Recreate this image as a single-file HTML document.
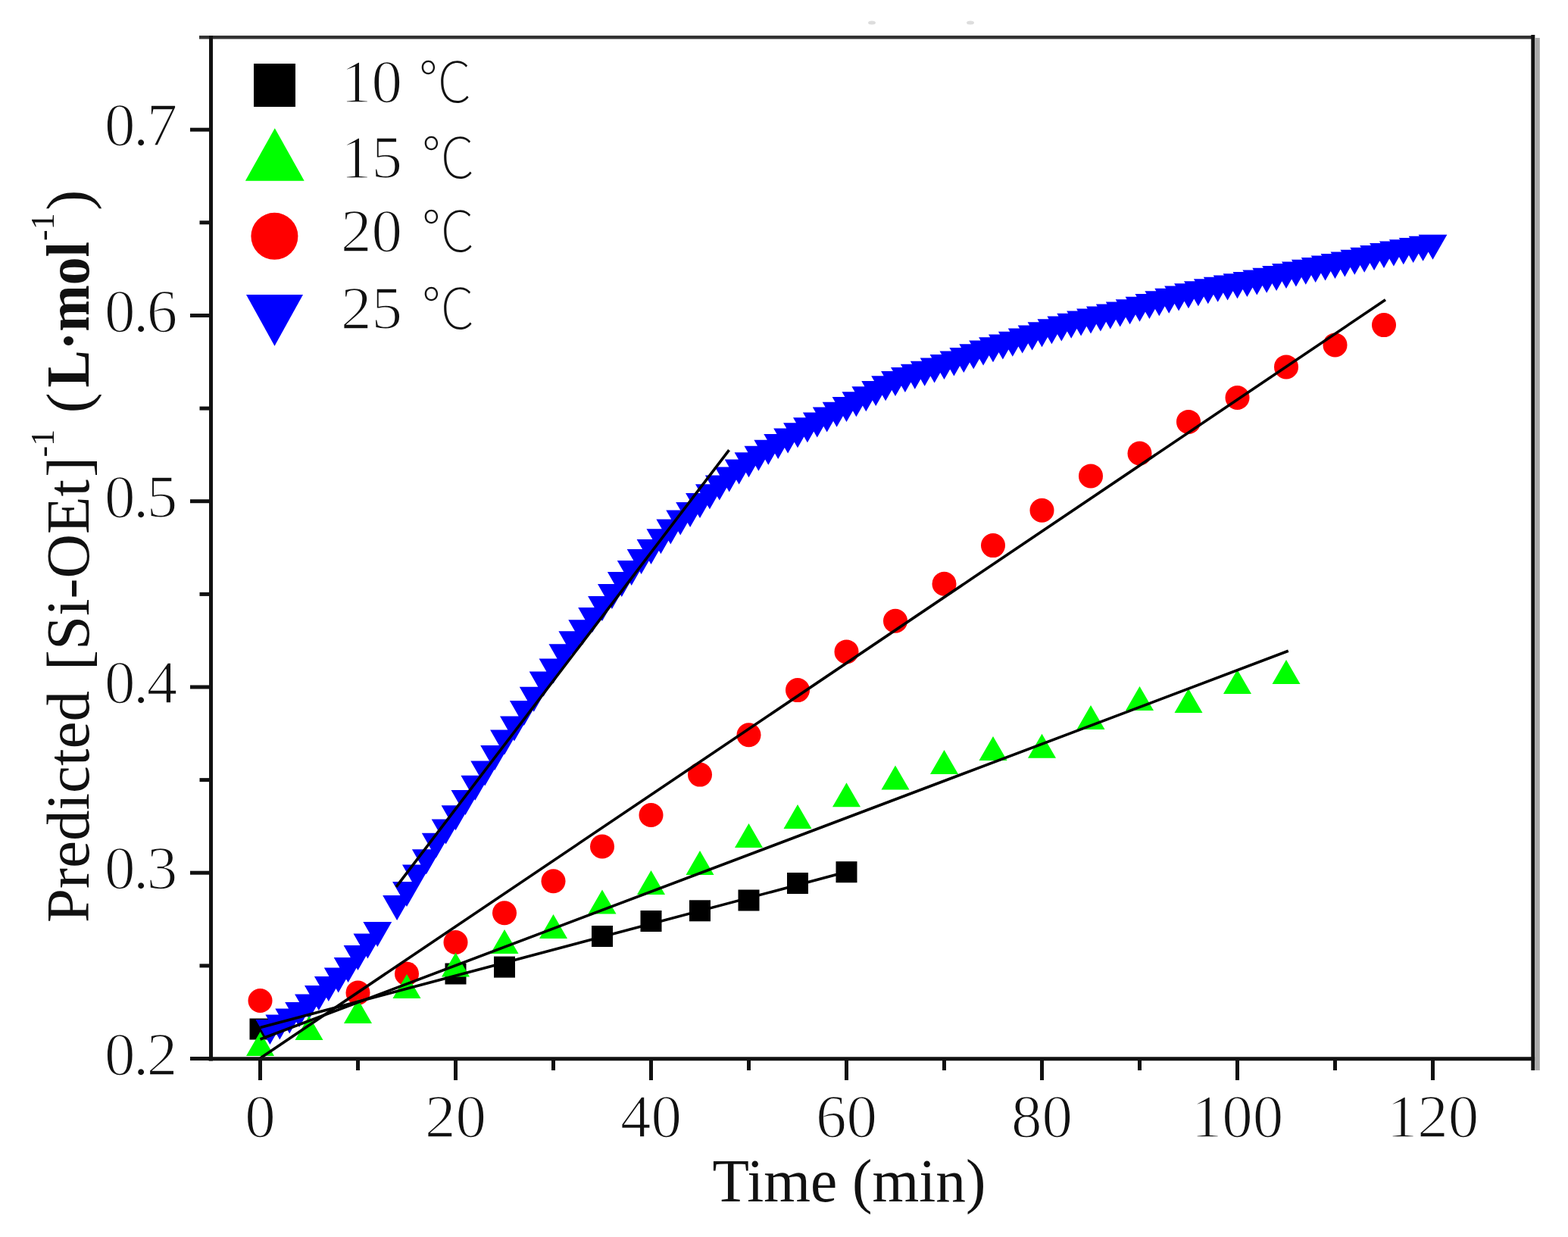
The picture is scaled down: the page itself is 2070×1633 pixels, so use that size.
<!DOCTYPE html>
<html><head><meta charset="utf-8"><title>Predicted [Si-OEt]-1 vs Time</title>
<style>html,body{margin:0;padding:0;background:#fff;}svg{display:block;}text.t,.t text{stroke:#fff;stroke-width:1.6px;}.t text.nc{stroke:none;}</style>
</head><body>
<svg width="2070" height="1633" viewBox="0 0 2070 1633">
<rect width="100%" height="100%" fill="#fff"/>
<g fill="#000"><rect x="329.5" y="1344.5" width="28" height="28"/><rect x="587.5" y="1271.5" width="28" height="28"/><rect x="652" y="1262.6" width="28" height="28"/><rect x="781" y="1222" width="28" height="28"/><rect x="845.5" y="1202" width="28" height="28"/><rect x="910" y="1188.3" width="28" height="28"/><rect x="974.5" y="1174.5" width="28" height="28"/><rect x="1039" y="1152" width="28" height="28"/><rect x="1103.5" y="1137.2" width="28" height="28"/></g>
<path fill="#0000ff" d="M337.5 1346L375.3 1346L356.4 1379ZM350.4 1339.5L388.2 1339.5L369.3 1372.5ZM363.3 1331.5L401.1 1331.5L382.2 1364.5ZM376.2 1323L414 1323L395.1 1356ZM389.1 1312.5L426.9 1312.5L408 1345.5ZM402 1301L439.8 1301L420.9 1334ZM414.9 1289L452.7 1289L433.8 1322ZM427.8 1277.5L465.6 1277.5L446.7 1310.5ZM440.7 1264L478.5 1264L459.6 1297ZM453.6 1247.9L491.4 1247.9L472.5 1280.9ZM466.5 1232.4L504.3 1232.4L485.4 1265.4ZM479.4 1216.9L517.2 1216.9L498.3 1249.9ZM505.2 1182L543 1182L524.1 1215ZM518.1 1164.1L555.9 1164.1L537 1197.1ZM531 1141.6L568.8 1141.6L549.9 1174.6ZM543.9 1121.2L581.7 1121.2L562.8 1154.2ZM556.8 1099.8L594.6 1099.8L575.7 1132.8ZM569.7 1081.5L607.5 1081.5L588.6 1114.5ZM582.6 1063.3L620.4 1063.3L601.5 1096.3ZM595.5 1043L633.3 1043L614.4 1076ZM608.4 1023.7L646.2 1023.7L627.3 1056.7ZM621.3 1004.4L659.1 1004.4L640.2 1037.4ZM634.2 984L672 984L653.1 1017ZM647.1 963.6L684.9 963.6L666 996.6ZM660 945.4L697.8 945.4L678.9 978.4ZM672.9 925L710.7 925L691.8 958ZM685.8 906.8L723.6 906.8L704.7 939.8ZM698.7 886.5L736.5 886.5L717.6 919.5ZM711.6 869.6L749.4 869.6L730.5 902.6ZM724.5 850.3L762.3 850.3L743.4 883.3ZM737.4 833.2L775.2 833.2L756.3 866.2ZM750.3 818.2L788.1 818.2L769.2 851.2ZM763.2 802.1L801 802.1L782.1 835.1ZM776.1 787.1L813.9 787.1L795 820.1ZM789 771.1L826.8 771.1L807.9 804.1ZM801.9 755L839.7 755L820.8 788ZM814.8 740L852.6 740L833.7 773ZM827.7 725L865.5 725L846.6 758ZM840.6 712.1L878.4 712.1L859.5 745.1ZM853.5 698.2L891.3 698.2L872.4 731.2ZM866.4 685.4L904.2 685.4L885.3 718.4ZM879.3 673.6L917.1 673.6L898.2 706.6ZM892.2 662.9L930 662.9L911.1 695.9ZM905.1 651.1L942.9 651.1L924 684.1ZM918 639.3L955.8 639.3L936.9 672.3ZM930.9 627.6L968.7 627.6L949.8 660.6ZM943.8 616.4L981.6 616.4L962.7 649.4ZM956.7 606.4L994.5 606.4L975.6 639.4ZM969.6 597.3L1007.4 597.3L988.5 630.3ZM982.5 588.8L1020.3 588.8L1001.4 621.8ZM995.4 580.8L1033.2 580.8L1014.3 613.8ZM1008.3 572.9L1046.1 572.9L1027.2 605.9ZM1021.2 565.5L1059 565.5L1040.1 598.5ZM1034.1 558.3L1071.9 558.3L1053 591.3ZM1047 551.3L1084.8 551.3L1065.9 584.3ZM1059.9 544.4L1097.7 544.4L1078.8 577.4ZM1072.8 537.5L1110.6 537.5L1091.7 570.5ZM1085.7 530.7L1123.5 530.7L1104.6 563.7ZM1098.6 524L1136.4 524L1117.5 557ZM1111.5 517.3L1149.3 517.3L1130.4 550.3ZM1124.4 510.3L1162.2 510.3L1143.3 543.3ZM1137.3 503.1L1175.1 503.1L1156.2 536.1ZM1150.2 496.3L1188 496.3L1169.1 529.3ZM1163.1 490.1L1200.9 490.1L1182 523.1ZM1176 484.9L1213.8 484.9L1194.9 517.9ZM1188.9 480.7L1226.7 480.7L1207.8 513.7ZM1201.8 476.7L1239.6 476.7L1220.7 509.7ZM1214.7 472.5L1252.5 472.5L1233.6 505.5ZM1227.6 468L1265.4 468L1246.5 501ZM1240.5 463.5L1278.3 463.5L1259.4 496.5ZM1253.4 459L1291.2 459L1272.3 492ZM1266.3 454.3L1304.1 454.3L1285.2 487.3ZM1279.2 449.6L1317 449.6L1298.1 482.6ZM1292.1 445.2L1329.9 445.2L1311 478.2ZM1305 441.4L1342.8 441.4L1323.9 474.4ZM1317.9 437.7L1355.7 437.7L1336.8 470.7ZM1330.8 433.6L1368.6 433.6L1349.7 466.6ZM1343.7 429.4L1381.5 429.4L1362.6 462.4ZM1356.6 425.3L1394.4 425.3L1375.5 458.3ZM1369.5 421.3L1407.3 421.3L1388.4 454.3ZM1382.4 417.4L1420.2 417.4L1401.3 450.4ZM1395.3 413.7L1433.1 413.7L1414.2 446.7ZM1408.2 410.4L1446 410.4L1427.1 443.4ZM1421.1 407.4L1458.9 407.4L1440 440.4ZM1434 404.5L1471.8 404.5L1452.9 437.5ZM1446.9 401.6L1484.7 401.6L1465.8 434.6ZM1459.8 398.6L1497.6 398.6L1478.7 431.6ZM1472.7 395.3L1510.5 395.3L1491.6 428.3ZM1485.6 391.7L1523.4 391.7L1504.5 424.7ZM1498.5 388L1536.3 388L1517.4 421ZM1511.4 384.3L1549.2 384.3L1530.3 417.3ZM1524.3 380.8L1562.1 380.8L1543.2 413.8ZM1537.2 377.4L1575 377.4L1556.1 410.4ZM1550.1 374.2L1587.9 374.2L1569 407.2ZM1563 371.2L1600.8 371.2L1581.9 404.2ZM1575.9 368.3L1613.7 368.3L1594.8 401.3ZM1588.8 365.7L1626.6 365.7L1607.7 398.7ZM1601.7 363.4L1639.5 363.4L1620.6 396.4ZM1614.6 361.3L1652.4 361.3L1633.5 394.3ZM1627.5 359.1L1665.3 359.1L1646.4 392.1ZM1640.4 356.6L1678.2 356.6L1659.3 389.6ZM1653.3 353.7L1691.1 353.7L1672.2 386.7ZM1666.2 350.9L1704 350.9L1685.1 383.9ZM1679.1 348.1L1716.9 348.1L1698 381.1ZM1692 345.4L1729.8 345.4L1710.9 378.4ZM1704.9 342.8L1742.7 342.8L1723.8 375.8ZM1717.8 340.1L1755.6 340.1L1736.7 373.1ZM1730.7 337.5L1768.5 337.5L1749.6 370.5ZM1743.6 335L1781.4 335L1762.5 368ZM1756.5 332.4L1794.3 332.4L1775.4 365.4ZM1769.4 329.7L1807.2 329.7L1788.3 362.7ZM1782.3 326.8L1820.1 326.8L1801.2 359.8ZM1795.2 323.9L1833 323.9L1814.1 356.9ZM1808.1 321.1L1845.9 321.1L1827 354.1ZM1821 318.5L1858.8 318.5L1839.9 351.5ZM1833.9 316.2L1871.7 316.2L1852.8 349.2ZM1846.8 313.9L1884.6 313.9L1865.7 346.9ZM1859.7 311.8L1897.5 311.8L1878.6 344.8ZM1872.6 309.8L1910.4 309.8L1891.5 342.8Z"/>
<g fill="#ff0000"><circle cx="343.5" cy="1321" r="16"/><circle cx="472.5" cy="1310.6" r="16"/><circle cx="537" cy="1285.5" r="16"/><circle cx="601.5" cy="1244" r="16"/><circle cx="666" cy="1205.3" r="16"/><circle cx="730.5" cy="1163.3" r="16"/><circle cx="795" cy="1117.5" r="16"/><circle cx="859.5" cy="1076" r="16"/><circle cx="924" cy="1022.6" r="16"/><circle cx="988.5" cy="970.3" r="16"/><circle cx="1053" cy="911.1" r="16"/><circle cx="1117.5" cy="860.4" r="16"/><circle cx="1182" cy="819.8" r="16"/><circle cx="1246.5" cy="770.8" r="16"/><circle cx="1311" cy="720.1" r="16"/><circle cx="1375.5" cy="673.8" r="16"/><circle cx="1440" cy="628.4" r="16"/><circle cx="1504.5" cy="598.5" r="16"/><circle cx="1569" cy="556.9" r="16"/><circle cx="1633.5" cy="525" r="16"/><circle cx="1698" cy="484.4" r="16"/><circle cx="1762.5" cy="455.4" r="16"/><circle cx="1827" cy="429.1" r="16"/></g>
<path fill="#00ff00" d="M325 1394L343.5 1362L362 1394ZM389.5 1373L408 1341L426.5 1373ZM454 1351L472.5 1319L491 1351ZM518.5 1318L537 1286L555.5 1318ZM583 1289.5L601.5 1257.5L620 1289.5ZM647.5 1259L666 1227L684.5 1259ZM712 1239L730.5 1207L749 1239ZM776.5 1206.5L795 1174.5L813.5 1206.5ZM841 1181L859.5 1149L878 1181ZM905.5 1155L924 1123L942.5 1155ZM970 1119L988.5 1087L1007 1119ZM1034.5 1094L1053 1062L1071.5 1094ZM1099 1065.2L1117.5 1033.2L1136 1065.2ZM1163.5 1042.5L1182 1010.5L1200.5 1042.5ZM1228 1022L1246.5 990L1265 1022ZM1292.5 1004L1311 972L1329.5 1004ZM1357 1000.8L1375.5 968.8L1394 1000.8ZM1421.5 963L1440 931L1458.5 963ZM1486 938L1504.5 906L1523 938ZM1550.5 941L1569 909L1587.5 941ZM1615 916L1633.5 884L1652 916ZM1679.5 903L1698 871L1716.5 903Z"/>
<line x1="343.5" y1="1356.5" x2="1117.5" y2="1151.1" stroke="#000" stroke-width="3.6"/>
<line x1="343.5" y1="1372" x2="1700.8" y2="859.3" stroke="#000" stroke-width="3.6"/>
<line x1="343.5" y1="1397" x2="1829" y2="395.8" stroke="#000" stroke-width="3.6"/>
<line x1="523" y1="1170.9" x2="962.5" y2="594.1" stroke="#000" stroke-width="3.6"/>
<line x1="263" y1="49.3" x2="2026" y2="49.3" stroke="#333" stroke-width="4.5"/>
<g stroke="#111" stroke-linecap="butt">
<line x1="278.5" y1="47" x2="278.5" y2="1400.5" stroke-width="5"/>
<line x1="275" y1="1397.8" x2="2026.3" y2="1397.8" stroke-width="5"/>
<line x1="2023.8" y1="46" x2="2023.8" y2="1413" stroke-width="5"/>
</g>
<rect x="2026.3" y="50" width="6.5" height="1363" fill="#aaa"/>
<ellipse cx="1151" cy="30" rx="5" ry="2.5" fill="#ddd"/><ellipse cx="1281" cy="30" rx="5" ry="2.5" fill="#ddd"/>
<g stroke="#111" stroke-width="5"><line x1="251" y1="1397.5" x2="277" y2="1397.5"/><line x1="263.5" y1="1274.9" x2="277" y2="1274.9"/><line x1="251" y1="1152.2" x2="277" y2="1152.2"/><line x1="263.5" y1="1029.6" x2="277" y2="1029.6"/><line x1="251" y1="907" x2="277" y2="907"/><line x1="263.5" y1="784.4" x2="277" y2="784.4"/><line x1="251" y1="661.7" x2="277" y2="661.7"/><line x1="263.5" y1="539.1" x2="277" y2="539.1"/><line x1="251" y1="416.5" x2="277" y2="416.5"/><line x1="263.5" y1="293.8" x2="277" y2="293.8"/><line x1="251" y1="171.2" x2="277" y2="171.2"/><line x1="343.5" y1="1398" x2="343.5" y2="1426"/><line x1="472.5" y1="1398" x2="472.5" y2="1413"/><line x1="601.5" y1="1398" x2="601.5" y2="1426"/><line x1="730.5" y1="1398" x2="730.5" y2="1413"/><line x1="859.5" y1="1398" x2="859.5" y2="1426"/><line x1="988.5" y1="1398" x2="988.5" y2="1413"/><line x1="1117.5" y1="1398" x2="1117.5" y2="1426"/><line x1="1246.5" y1="1398" x2="1246.5" y2="1413"/><line x1="1375.5" y1="1398" x2="1375.5" y2="1426"/><line x1="1504.5" y1="1398" x2="1504.5" y2="1413"/><line x1="1633.5" y1="1398" x2="1633.5" y2="1426"/><line x1="1762.5" y1="1398" x2="1762.5" y2="1413"/><line x1="1891.5" y1="1398" x2="1891.5" y2="1426"/></g>
<g font-family="Liberation Serif, serif" font-size="81" fill="#111" class="t">
<text x="138" y="1418.5" letter-spacing="-2.5">0.2</text>
<text x="138" y="1173.2" letter-spacing="-2.5">0.3</text>
<text x="138" y="928" letter-spacing="-2.5">0.4</text>
<text x="138" y="682.7" letter-spacing="-2.5">0.5</text>
<text x="138" y="437.5" letter-spacing="-2.5">0.6</text>
<text x="138" y="192.2" letter-spacing="-2.5">0.7</text>
<text x="343.5" y="1501" text-anchor="middle">0</text>
<text x="601.5" y="1501" text-anchor="middle">20</text>
<text x="859.5" y="1501" text-anchor="middle">40</text>
<text x="1117.5" y="1501" text-anchor="middle">60</text>
<text x="1375.5" y="1501" text-anchor="middle">80</text>
<text x="1633.5" y="1501" text-anchor="middle">100</text>
<text x="1891.5" y="1501" text-anchor="middle">120</text>
</g>
<text transform="translate(1121,1586) scale(0.98,1)" text-anchor="middle" font-family="Liberation Serif, serif" font-size="81" fill="#111">Time (min)</text>
<g transform="translate(117,1218) rotate(-90)" font-family="Liberation Serif, serif" font-size="81" fill="#111"><text x="0" y="0">Predicted </text><text x="333" y="0">[Si-OEt</text><text x="588" y="0">]</text><text class="nc" x="614.5" y="-46" font-size="44">-1 </text><text x="672.7" y="0">(</text><text transform="translate(706.5,0) scale(0.91,1)" font-weight="bold">L·mol</text><text class="nc" x="900" y="-46" font-size="44">-1</text><text x="940.2" y="0">)</text></g>
<rect x="335" y="84" width="55" height="57" fill="#000"/>
<path d="M323.9 238.8L362.8 169.2L401.7 238.8Z" fill="#00ff00"/>
<ellipse cx="362.4" cy="311.8" rx="31" ry="31" fill="#ff0000"/>
<path d="M325 388.9L400 388.9L362.5 456.7Z" fill="#0000ff"/>
<g font-family="Liberation Serif, serif" font-size="81" fill="#111" class="t">
<text x="450" y="135">10</text>
<text transform="translate(552,135) scale(0.96,1)" class="nc" font-family="Liberation Serif, Noto Sans CJK SC, sans-serif" font-weight="100" font-size="74">℃</text>
<text x="450" y="234.5">15</text>
<text transform="translate(556,234.5) scale(0.96,1)" class="nc" font-family="Liberation Serif, Noto Sans CJK SC, sans-serif" font-weight="100" font-size="74">℃</text>
<text x="450" y="332.4">20</text>
<text transform="translate(556,332.4) scale(0.96,1)" class="nc" font-family="Liberation Serif, Noto Sans CJK SC, sans-serif" font-weight="100" font-size="74">℃</text>
<text x="450" y="434">25</text>
<text transform="translate(556,434) scale(0.96,1)" class="nc" font-family="Liberation Serif, Noto Sans CJK SC, sans-serif" font-weight="100" font-size="74">℃</text>
</g>
</svg>
</body></html>
